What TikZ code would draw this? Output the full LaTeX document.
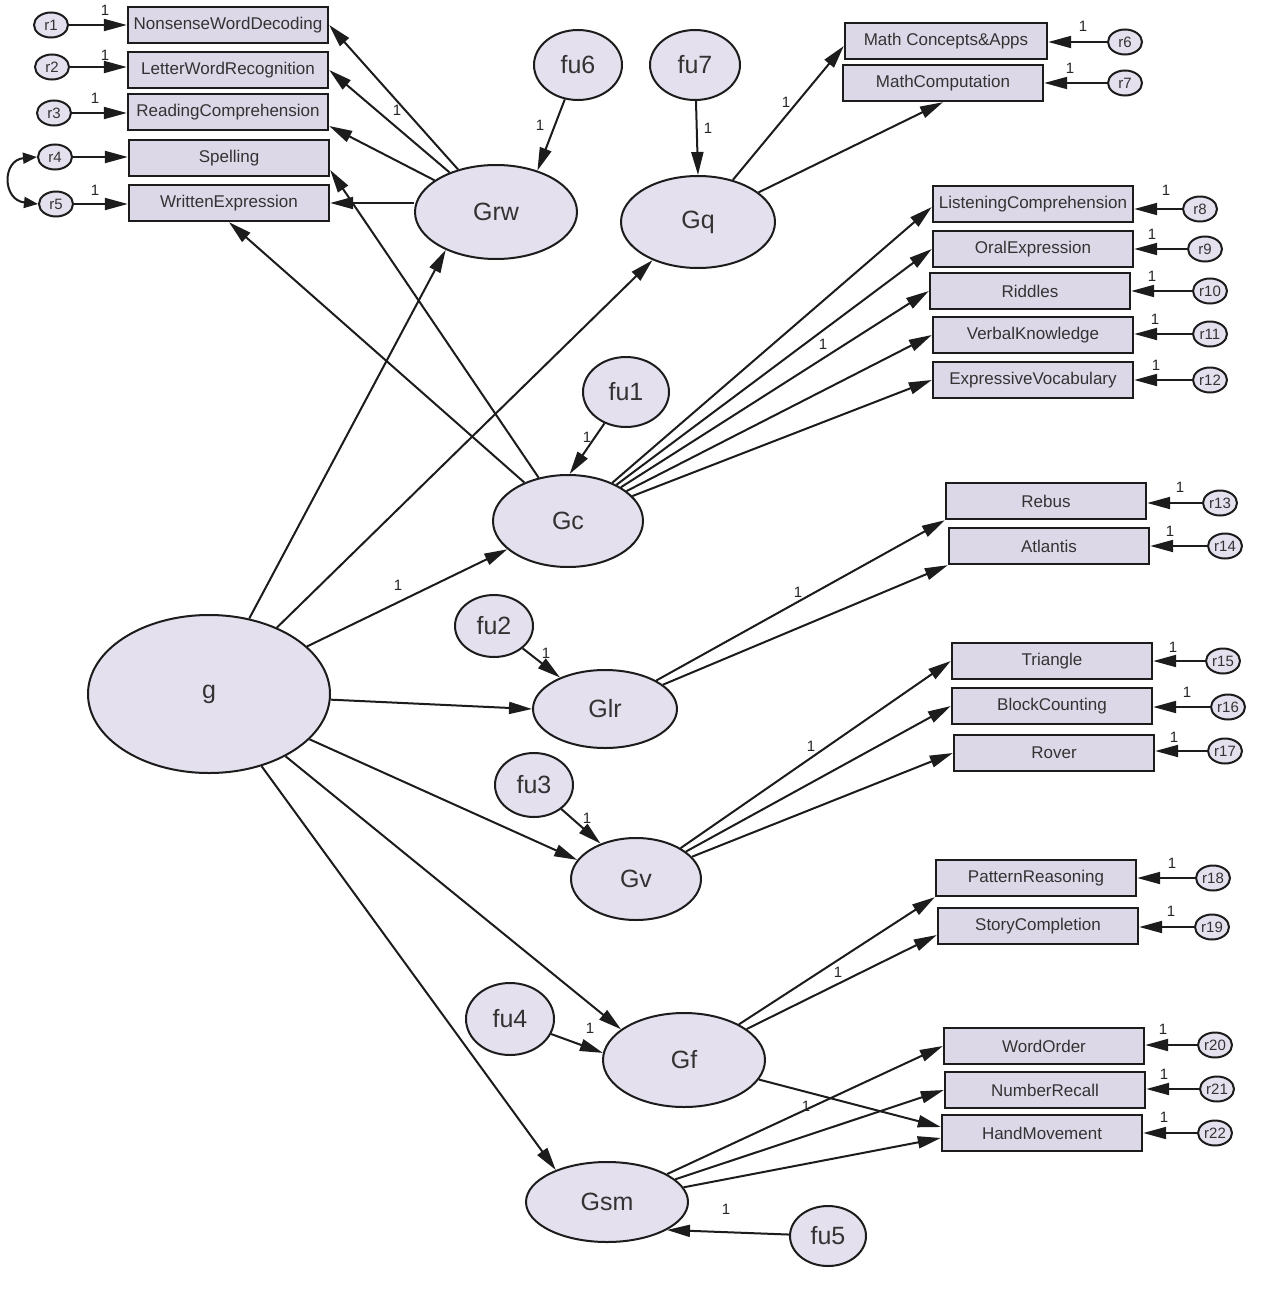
\documentclass[tikz,border=0pt]{standalone}
\usepackage{fontspec}
\setmainfont{Liberation Sans}
\usetikzlibrary{arrows.meta,shapes.geometric}
\definecolor{boxfill}{RGB}{220,216,232}
\definecolor{ellfill}{RGB}{228,224,238}
\definecolor{ink}{RGB}{28,28,28}
\begin{document}
\begin{tikzpicture}[x=1pt,y=-1pt,
  obs/.style={draw=ink, line width=2.4pt, fill=boxfill, minimum width=200pt, minimum height=36pt, inner sep=0pt, font=\fontsize{17}{17}\selectfont, text=black!80},
  lat/.style={draw=ink, line width=2pt, fill=ellfill, ellipse, inner sep=0pt, font=\fontsize{25}{25}\selectfont, text=black!80},
  err/.style={draw=ink, line width=2pt, fill=ellfill, ellipse, minimum width=34pt, minimum height=25pt, inner sep=0pt, font=\fontsize{15}{15}\selectfont, text=black!80},
  conn/.style={draw=ink, line width=2pt, -{Triangle[length=23pt,width=12pt]}},
  cov/.style={draw=ink, line width=2pt, {Triangle[length=14pt,width=11pt]}-{Triangle[length=14pt,width=11pt]}},
  lbl/.style={font=\fontsize{15}{15}\selectfont, inner sep=0pt, text=black!85}
]
\fill[white] (0,0) rectangle (1270,1298);
\useasboundingbox (0,0) rectangle (1270,1298);

% latent variables
\node[lat, minimum width=242pt, minimum height=158pt] (g) at (209,694) {g};
\node[lat, minimum width=162pt, minimum height=94pt] (Grw) at (496,212) {Grw};
\node[lat, minimum width=154pt, minimum height=92pt] (Gq) at (698,222) {Gq};
\node[lat, minimum width=150pt, minimum height=92pt] (Gc) at (568,521) {Gc};
\node[lat, minimum width=144pt, minimum height=78pt] (Glr) at (605,709) {Glr};
\node[lat, minimum width=130pt, minimum height=82pt] (Gv) at (636,879) {Gv};
\node[lat, minimum width=162pt, minimum height=94pt] (Gf) at (684,1060) {Gf};
\node[lat, minimum width=162pt, minimum height=80pt] (Gsm) at (607,1202) {Gsm};

% disturbances
\node[lat, minimum width=88pt, minimum height=70pt] (fu6) at (578,65) {fu6};
\node[lat, minimum width=90pt, minimum height=70pt] (fu7) at (695,65) {fu7};
\node[lat, minimum width=86pt, minimum height=70pt] (fu1) at (626,392) {fu1};
\node[lat, minimum width=78pt, minimum height=62pt] (fu2) at (494,626) {fu2};
\node[lat, minimum width=78pt, minimum height=64pt] (fu3) at (534,785) {fu3};
\node[lat, minimum width=88pt, minimum height=72pt] (fu4) at (510,1019) {fu4};
\node[lat, minimum width=76pt, minimum height=60pt] (fu5) at (828,1236) {fu5};

% observed variables
\node[obs] (NWD) at (228,25) {NonsenseWordDecoding};
\node[obs] (LWR) at (228,70) {LetterWordRecognition};
\node[obs] (RC) at (228,112) {ReadingComprehension};
\node[obs] (Spel) at (229,158) {Spelling};
\node[obs] (WE) at (229,203) {WrittenExpression};
\node[obs, minimum width=202pt] (MCA) at (946,41) {Math Concepts\&Apps};
\node[obs] (MC) at (943,83) {MathComputation};
\node[obs] (LC) at (1033,204) {ListeningComprehension};
\node[obs] (OE) at (1033,249) {OralExpression};
\node[obs] (Rid) at (1030,291) {Riddles};
\node[obs] (VK) at (1033,335) {VerbalKnowledge};
\node[obs] (EV) at (1033,380) {ExpressiveVocabulary};
\node[obs] (Reb) at (1046,501) {Rebus};
\node[obs] (Atl) at (1049,546) {Atlantis};
\node[obs] (Tri) at (1052,661) {Triangle};
\node[obs] (BC) at (1052,706) {BlockCounting};
\node[obs] (Rov) at (1054,753) {Rover};
\node[obs] (PR) at (1036,878) {PatternReasoning};
\node[obs] (SC) at (1038,926) {StoryCompletion};
\node[obs] (WO) at (1044,1046) {WordOrder};
\node[obs] (NR) at (1045,1090) {NumberRecall};
\node[obs] (HM) at (1042,1133) {HandMovement};

% error terms
\node[err] (r1) at (51,25) {r1};
\node[err] (r2) at (52,67) {r2};
\node[err] (r3) at (54,113) {r3};
\node[err] (r4) at (55,157) {r4};
\node[err] (r5) at (56,204) {r5};
\node[err] (r6) at (1125,42) {r6};
\node[err] (r7) at (1125,83) {r7};
\node[err] (r8) at (1200,209) {r8};
\node[err] (r9) at (1205,249) {r9};
\node[err] (r10) at (1210,291) {r10};
\node[err] (r11) at (1210,334) {r11};
\node[err] (r12) at (1210,380) {r12};
\node[err] (r13) at (1220,503) {r13};
\node[err] (r14) at (1225,546) {r14};
\node[err] (r15) at (1223,661) {r15};
\node[err] (r16) at (1228,707) {r16};
\node[err] (r17) at (1225,751) {r17};
\node[err] (r18) at (1213,878) {r18};
\node[err] (r19) at (1212,927) {r19};
\node[err] (r20) at (1215,1045) {r20};
\node[err] (r21) at (1217,1089) {r21};
\node[err] (r22) at (1215,1133) {r22};

% error -> observed
\foreach \e/\o in {r1/NWD,r2/LWR,r3/RC,r4/Spel,r5/WE}
  \draw[conn] (\e) -- (\o.west |- \e);
\foreach \e/\o in {r6/MCA,r7/MC,r8/LC,r9/OE,r10/Rid,r11/VK,r12/EV,r13/Reb,r14/Atl,r15/Tri,r16/BC,r17/Rov,r18/PR,r19/SC,r20/WO,r21/NR,r22/HM}
  \draw[conn] (\e) -- (\o.east |- \e);

% covariance r4 <-> r5
\draw[cov] (r4.west) .. controls (2,160) and (2,200) .. (r5.west);

% disturbances -> latents
\draw[conn] (fu6) -- (Grw.45);
\draw[conn] (fu7) -- (Gq.north);
\draw[conn] (fu1) -- (Gc.88);
\draw[conn] (fu2) -- (Glr.145);
\draw[conn] (fu3) -- (Gv.135);
\draw[conn] (fu4) -- (Gf.175);
\draw[conn] (fu5) -- (Gsm.-25);

% g -> first-order factors
\draw[conn] (g) -- (Grw.217);
\draw[conn] (g) -- (Gq.220);
\draw[conn] (g) -- (Gc.205);
\draw[conn] (g) -- (Glr.west);
\draw[conn] (g) -- (Gv.162);
\draw[conn] (g) -- (Gf.154);
\draw[conn] (g) -- (Gsm.148);

% Grw loadings
\draw[conn] (Grw) -- (NWD.east);
\draw[conn] (Grw) -- (LWR.east);
\draw[conn] (Grw) -- ([yshift=-14pt]RC.east);
\draw[conn] (Grw.west |- WE) -- (WE.east);

% Gq loadings
\draw[conn] (Gq) -- ([yshift=-5pt]MCA.west);
\draw[conn] (Gq) -- (MC.south);

% Gc loadings
\draw[conn] (Gc) -- ([yshift=-12pt]Spel.east);
\draw[conn] (Gc) -- (WE.south);
\draw[conn] (Gc) -- ([yshift=-3pt]LC.west);
\draw[conn] (Gc) -- (OE.west);
\draw[conn] (Gc) -- (Rid.west);
\draw[conn] (Gc) -- (VK.west);
\draw[conn] (Gc) -- (EV.west);

% Glr loadings
\draw[conn] (Glr) -- (Reb.south west);
\draw[conn] (Glr) -- (Atl.south west);

% Gv loadings
\draw[conn] (Gv) -- (Tri.west);
\draw[conn] (Gv) -- (BC.west);
\draw[conn] (Gv) -- (Rov.west);

% Gf loadings
\draw[conn] (Gf) -- (PR.south west);
\draw[conn] (Gf) -- ([yshift=-9pt]SC.west);
\draw[conn] (Gf) -- ([yshift=6pt]HM.west);

% Gsm loadings
\draw[conn] (Gsm) -- (WO.west);
\draw[conn] (Gsm) -- (NR.west);
\draw[conn] (Gsm) -- ([yshift=-5pt]HM.west);

% labels "1"
\node[lbl] (l1) at (105,10) {1};
\node[lbl] (l2) at (105,55) {1};
\node[lbl] (l3) at (95,98) {1};
\node[lbl] (l5) at (95,190) {1};
\node[lbl] (l6) at (1083,26) {1};
\node[lbl] (l7) at (1070,68) {1};
\node[lbl] (l8) at (1166,190) {1};
\node[lbl] (l9) at (1152,234) {1};
\node[lbl] (l10) at (1152,276) {1};
\node[lbl] (l11) at (1155,319) {1};
\node[lbl] (l12) at (1156,365) {1};
\node[lbl] (l13) at (1180,487) {1};
\node[lbl] (l14) at (1170,531) {1};
\node[lbl] (l15) at (1173,647) {1};
\node[lbl] (l16) at (1187,692) {1};
\node[lbl] (l17) at (1174,737) {1};
\node[lbl] (l18) at (1172,863) {1};
\node[lbl] (l19) at (1171,911) {1};
\node[lbl] (l20) at (1163,1029) {1};
\node[lbl] (l21) at (1164,1074) {1};
\node[lbl] (l22) at (1164,1117) {1};
\node[lbl] (lgrw) at (397,110) {1};
\node[lbl] (lfu6) at (540,125) {1};
\node[lbl] (lfu7) at (708,128) {1};
\node[lbl] (lgq) at (786,102) {1};
\node[lbl] (lfu1) at (587,437) {1};
\node[lbl] (lggc) at (398,585) {1};
\node[lbl] (lgc) at (823,344) {1};
\node[lbl] (lfu2) at (546,653) {1};
\node[lbl] (lglr) at (798,592) {1};
\node[lbl] (lfu3) at (587,818) {1};
\node[lbl] (lgv) at (811,746) {1};
\node[lbl] (lgf) at (838,972) {1};
\node[lbl] (lfu4) at (590,1028) {1};
\node[lbl] (lgfhm) at (806,1106) {1};
\node[lbl] (lfu5) at (726,1209) {1};
\end{tikzpicture}
\end{document}
